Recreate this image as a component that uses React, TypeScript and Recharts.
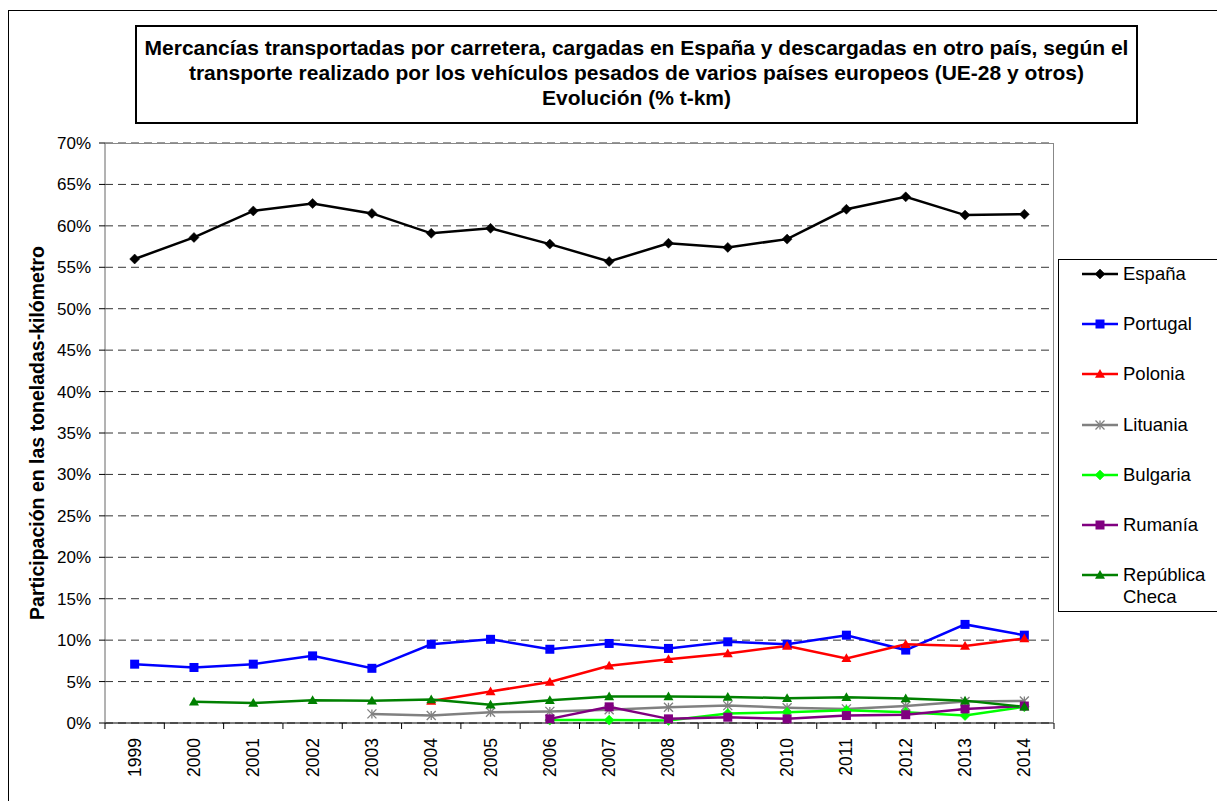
import React from 'react';
import { LineChart, Line, XAxis, YAxis, CartesianGrid } from 'recharts';

const years = ['1999', '2000', '2001', '2002', '2003', '2004', '2005', '2006', '2007', '2008', '2009', '2010', '2011', '2012', '2013', '2014'];
const espana = [56.0, 58.6, 61.8, 62.7, 61.5, 59.1, 59.7, 57.8, 55.7, 57.9, 57.4, 58.4, 62.0, 63.5, 61.3, 61.4];
const portugal = [7.1, 6.7, 7.1, 8.1, 6.6, 9.5, 10.1, 8.9, 9.6, 9.0, 9.8, 9.5, 10.6, 8.8, 11.9, 10.6];
const polonia = [null, null, null, null, null, 2.65, 3.8, 4.95, 6.9, 7.7, 8.4, 9.3, 7.8, 9.5, 9.3, 10.2];
const lituania = [null, null, null, null, 1.1, 0.9, 1.3, 1.4, 1.6, 1.9, 2.1, 1.85, 1.7, 2.05, 2.6, 2.65];
const bulgaria = [null, null, null, null, null, null, null, 0.35, 0.35, 0.3, 1.15, 1.3, 1.55, 1.3, 0.9, 1.95];
const rumania = [null, null, null, null, null, null, null, 0.5, 1.95, 0.5, 0.7, 0.5, 0.9, 1.0, 1.7, 2.05];
const checa = [null, 2.55, 2.4, 2.75, 2.7, 2.85, 2.2, 2.75, 3.2, 3.2, 3.15, 3.0, 3.1, 2.95, 2.7, 1.95];
const yTicks = [0, 5, 10, 15, 20, 25, 30, 35, 40, 45, 50, 55, 60, 65, 70];

const data = years.map((year, i) => ({
  year,
  espana: espana[i],
  portugal: portugal[i],
  polonia: polonia[i],
  lituania: lituania[i],
  bulgaria: bulgaria[i],
  rumania: rumania[i],
  checa: checa[i]
}));

type Shape = 'diamond' | 'square' | 'triangle' | 'star';

const series: { key: string; name: string[]; color: string; shape: Shape }[] = [
  { key: 'espana', name: ['España'], color: '#000000', shape: 'diamond' },
  { key: 'portugal', name: ['Portugal'], color: '#0000FF', shape: 'square' },
  { key: 'polonia', name: ['Polonia'], color: '#FF0000', shape: 'triangle' },
  { key: 'lituania', name: ['Lituania'], color: '#808080', shape: 'star' },
  { key: 'bulgaria', name: ['Bulgaria'], color: '#00FF00', shape: 'diamond' },
  { key: 'rumania', name: ['Rumanía'], color: '#800080', shape: 'square' },
  { key: 'checa', name: ['República', 'Checa'], color: '#008000', shape: 'triangle' }
];

const FONT = '"Liberation Sans", Arial, sans-serif';
const CHART_W = 1217;
const CHART_H = 793;
const TOP_M = 133;
const X_AXIS_H = 80;
const Y_AXIS_W = 97;
const RIGHT_M = 171;
const PLOT_W = CHART_W - Y_AXIS_W - RIGHT_M;
const PLOT_H = CHART_H - TOP_M - X_AXIS_H;
const STEP = PLOT_W / years.length;

const marker = (shape: Shape, color: string, cx: number, cy: number, key?: any) => {
  if (shape === 'diamond') {
    const r = 5;
    return <path key={key} d={`M${cx},${cy - r}L${cx + r},${cy}L${cx},${cy + r}L${cx - r},${cy}Z`} fill={color} stroke={color} strokeWidth={0.5} />;
  }
  if (shape === 'square') {
    const r = 4.5;
    return <rect key={key} x={cx - r} y={cy - r} width={2 * r} height={2 * r} fill={color} />;
  }
  if (shape === 'triangle') {
    const r = 5;
    return <path key={key} d={`M${cx},${cy - r}L${cx + r},${cy + r * 0.75}L${cx - r},${cy + r * 0.75}Z`} fill={color} />;
  }
  const r = 4.5;
  return (
    <g key={key} stroke={color} strokeWidth={1.3}>
      <line x1={cx - r} y1={cy - r} x2={cx + r} y2={cy + r} />
      <line x1={cx - r} y1={cy + r} x2={cx + r} y2={cy - r} />
      <line x1={cx} y1={cy - r} x2={cx} y2={cy + r} />
    </g>
  );
};

const makeDot = (shape: Shape, color: string) => (props: any) => {
  const { cx, cy, value, index } = props;
  if (value == null || cx == null || cy == null || Number.isNaN(cy)) return <g key={`e-${index}`} />;
  return marker(shape, color, cx, cy, `d-${index}`);
};

const YearTick = (props: any) => {
  const { x, y, payload, index } = props;
  const last = index === years.length - 1;
  return (
    <g>
      <line x1={x - STEP / 2} y1={y} x2={x - STEP / 2} y2={y + 6} stroke="#000" />
      {last && <line x1={x + STEP / 2} y1={y} x2={x + STEP / 2} y2={y + 6} stroke="#000" />}
      <text
        x={x}
        y={y + 15}
        transform={`rotate(-90, ${x}, ${y + 15})`}
        textAnchor="end"
        dominantBaseline="central"
        fontSize={17.5}
        fontFamily={FONT}
        fill="#000"
      >
        {payload.value}
      </text>
    </g>
  );
};

export default function App() {
  return (
    <div style={{ position: 'relative', top: 2, width: CHART_W, height: CHART_H, fontFamily: FONT }}>
      <style>{'body{overflow:hidden}'}</style>
      <div style={{ position: 'absolute', left: 0, top: 0, width: CHART_W + 10, height: CHART_H + 10, borderLeft: '1px solid #000', borderTop: '1px solid #000' }} />
      <div
        style={{
          position: 'absolute', left: 127, top: 15, width: 999, height: 87,
          border: '2px solid #000', textAlign: 'center', fontWeight: 'bold',
          fontSize: 21, lineHeight: '25px', paddingTop: 8, boxSizing: 'content-box', whiteSpace: 'nowrap'
        }}
      >
        Mercancías transportadas por carretera, cargadas en España y descargadas en otro país, según el<br />
        transporte realizado por los vehículos pesados de varios países europeos (UE-28 y otros)<br />
        Evolución (% t-km)
      </div>

      <LineChart width={CHART_W} height={CHART_H} data={data} margin={{ top: TOP_M, right: RIGHT_M, bottom: 0, left: 0 }}>
        <CartesianGrid vertical={false} stroke="#333" strokeDasharray="8 5" />
        <XAxis
          dataKey="year"
          interval={0}
          height={X_AXIS_H}
          padding={{ left: STEP / 2, right: STEP / 2 }}
          axisLine={{ stroke: '#000' }}
          tickLine={false}
          tickSize={0}
          tickMargin={0}
          tick={<YearTick />}
        />
        <YAxis
          width={Y_AXIS_W}
          domain={[0, 70]}
          ticks={yTicks}
          interval={0}
          tickFormatter={(v) => `${v}%`}
          axisLine={{ stroke: '#666' }}
          tickLine={{ stroke: '#000' }}
          tickSize={6}
          tickMargin={8}
          tick={{ fontSize: 17, fill: '#000', fontFamily: FONT }}
          label={{
            value: 'Participación en las toneladas-kilómetro',
            angle: -90,
            position: 'insideLeft',
            offset: 29,
            style: { textAnchor: 'middle', fontWeight: 'bold', fontSize: 19.5, fill: '#000', fontFamily: FONT }
          }}
        />
        {series.map((s) => (
          <Line
            key={s.key}
            type="linear"
            dataKey={s.key}
            stroke={s.color}
            strokeWidth={2.5}
            dot={makeDot(s.shape, s.color)}
            activeDot={false}
            isAnimationActive={false}
          />
        ))}
      </LineChart>

      {/* plot area frame (top + right edges, grey) */}
      <div
        style={{
          position: 'absolute', left: Y_AXIS_W, top: TOP_M, width: PLOT_W, height: PLOT_H,
          borderTop: '1px solid #888', borderRight: '1px solid #888', boxSizing: 'border-box', pointerEvents: 'none'
        }}
      />

      <div style={{ position: 'absolute', left: 1050, top: 249, width: 165, height: 351, border: '1px solid #000', background: '#fff' }}>
        {series.map((s, i) => (
          <div key={s.key} style={{ position: 'absolute', left: 0, top: 3 + i * 50.2, display: 'flex', alignItems: 'flex-start' }}>
            <svg width={36} height={22} style={{ marginLeft: 23, marginRight: 5 }}>
              <line x1={0} y1={11} x2={36} y2={11} stroke={s.color} strokeWidth={2.5} />
              {marker(s.shape, s.color, 18, 11)}
            </svg>
            <div style={{ fontSize: 18.5, lineHeight: '22px', color: '#000' }}>
              {s.name.map((n, j) => (
                <div key={j}>{n}</div>
              ))}
            </div>
          </div>
        ))}
      </div>
    </div>
  );
}
